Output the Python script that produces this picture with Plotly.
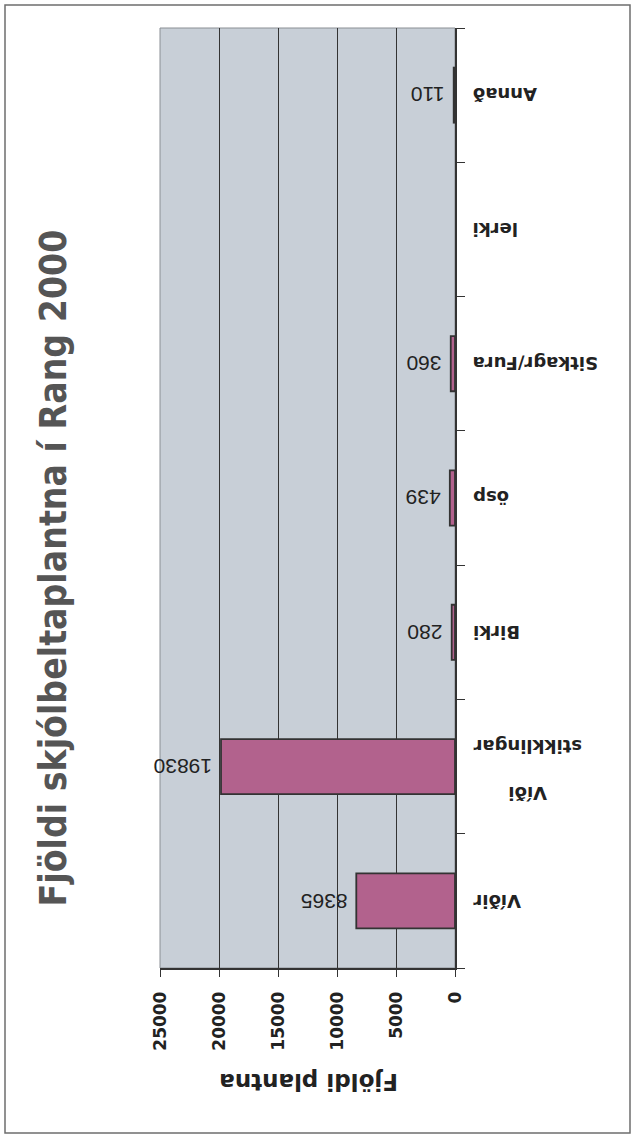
import plotly.graph_objects as go

categories = ["Víðir", "Víði stikklingar", "Birki", "ösp", "Sitkagr/Fura", "lerki", "Annað"]
category_labels = ["Víðir", "Víði<br><br>stikklingar", "Birki", "ösp", "Sitkagr/Fura", "lerki", "Annað"]
values = [8365, 19830, 280, 439, 360, None, 110]
value_labels = ["8365", "19830", "280", "439", "360", "", "110"]
x_ticks = [0, 5000, 10000, 15000, 20000, 25000]

W, H = 637, 1139
L, R, T, B = 160, 455, 28, 968
pw, ph = R - L, B - T

def px(x):
    return (x - L) / pw

def py(y):
    return (B - y) / ph

fig = go.Figure()
fig.add_trace(go.Bar(
    x=values, y=categories, orientation="h",
    marker=dict(color="#b2628d", line=dict(color="#333333", width=1.8)),
    width=0.41, cliponaxis=False,
))

# value labels (upside down), just past each bar end
for cat, v, lab in zip(categories, values, value_labels):
    if v is None:
        continue
    fig.add_annotation(text=lab, xref="x", yref="y", x=v, y=cat,
                       xanchor="right", yanchor="middle", xshift=-7,
                       textangle=180, showarrow=False,
                       font=dict(family="Liberation Sans", size=21, color="#222222"))

fig.update_layout(
    width=W, height=H,
    margin=dict(l=L, r=W - R, t=T, b=H - B, autoexpand=False),
    paper_bgcolor="white", plot_bgcolor="#c8cfd7",
    showlegend=False,
    font=dict(family="Liberation Sans", color="#222222"),
)
fig.update_xaxes(
    range=[25000, 0], tickvals=x_ticks, ticktext=[str(v) for v in x_ticks],
    tickangle=-90, tickfont=dict(size=17, color="#222222", family="DejaVu Sans", weight="bold"),
    showgrid=True, gridcolor="#333333", gridwidth=1,
    showline=True, linecolor="#333333", linewidth=1.5,
    ticks="outside", ticklen=7, tickcolor="#333333", zeroline=False,
    ticklabelstandoff=8, automargin=False,
)
fig.update_yaxes(
    side="right", tickson="boundaries", showticklabels=False,
    showline=True, linecolor="#333333", linewidth=1.5,
    ticks="outside", ticklen=8, tickcolor="#333333", showgrid=False,
    categoryorder="array", categoryarray=categories, automargin=False,
)

# category labels (upside down, as in the rotated original)
for cat, lab in zip(categories, category_labels):
    fig.add_annotation(text="<b>" + lab + "</b>", xref="paper", yref="y",
                       x=px(471), y=cat, xanchor="left", yanchor="middle",
                       yshift=-4 if "<br>" in lab else 0,
                       textangle=180, showarrow=False, align="center",
                       font=dict(size=18, color="#222222", family="DejaVu Sans"))

# plot area border
fig.add_shape(type="rect", xref="paper", yref="paper", x0=0, x1=1, y0=0, y1=1,
              line=dict(color="#8a8f94", width=1), layer="below")
# outer frame
fig.add_shape(type="rect", xref="paper", yref="paper",
              x0=px(5), x1=px(630), y0=py(1133), y1=py(5),
              line=dict(color="#6e6e6e", width=1.5))

fig.add_annotation(text="<b>Fjöldi plantna</b>", xref="paper", yref="paper",
                   x=px(309), y=py(1097), textangle=180, showarrow=False,
                   font=dict(size=23, color="#222222", family="DejaVu Sans"))
fig.add_annotation(text="<b>Fjöldi skjólbeltaplantna í Rang 2000</b>", xref="paper", yref="paper",
                   x=px(29), y=py(568), textangle=-90, showarrow=False,
                   font=dict(size=37, color="#555555", family="DejaVu Sans Condensed"))

fig.write_html("out.html", config={"displayModeBar": False},
               post_script="document.body.style.margin='0';")
